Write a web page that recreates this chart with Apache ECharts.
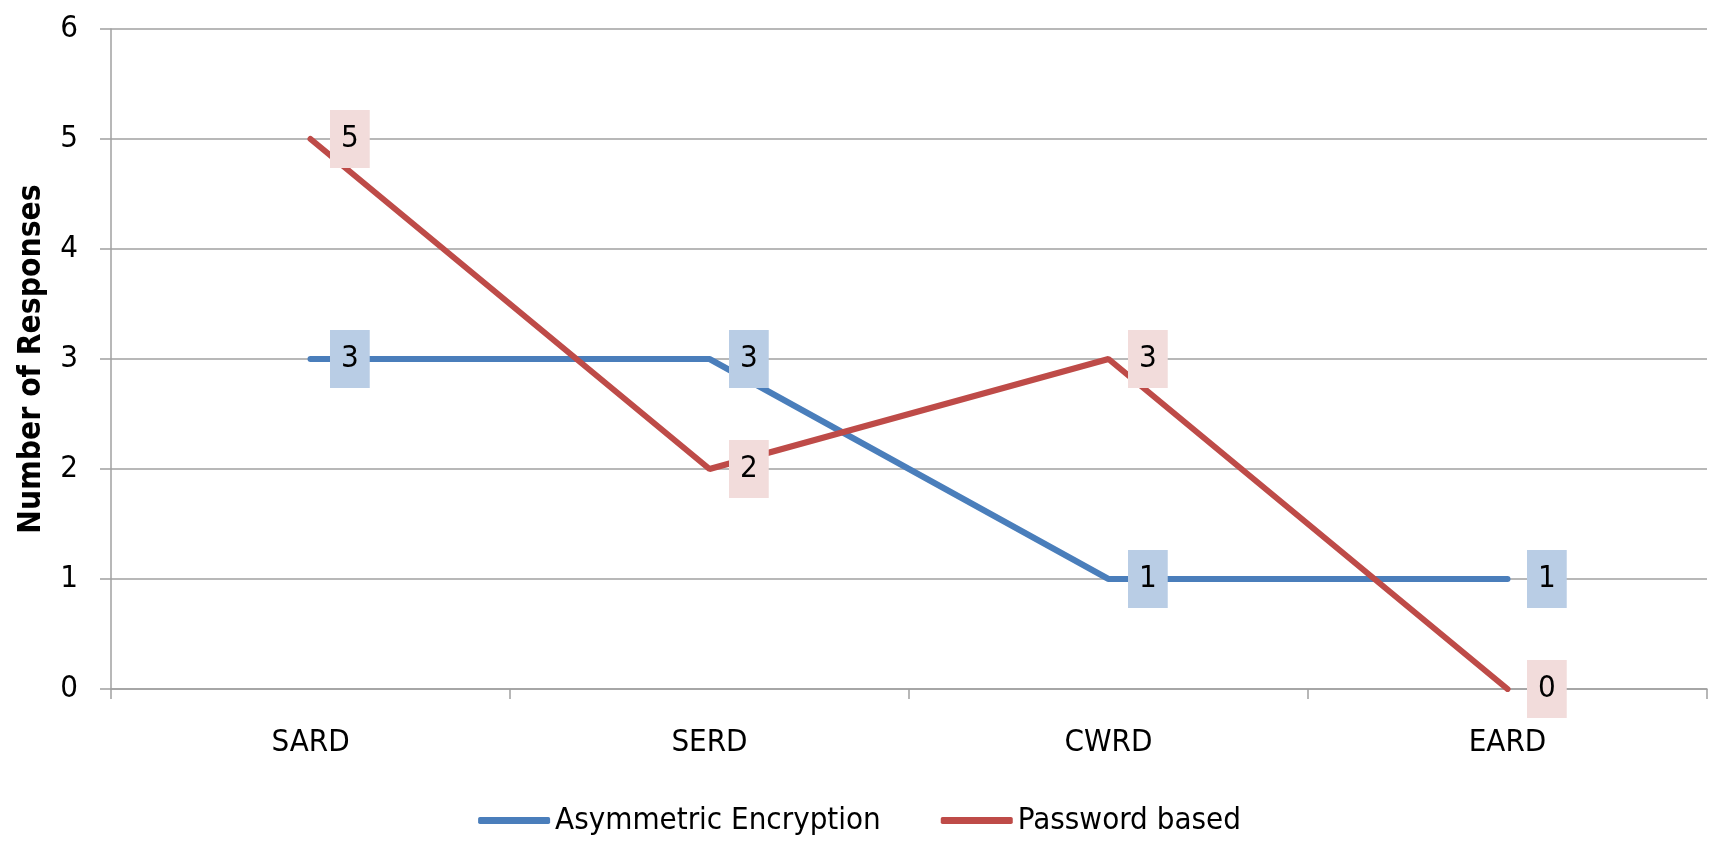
<!DOCTYPE html>
<html><head><meta charset="utf-8">
<script src="https://cdn.jsdelivr.net/npm/echarts@6/dist/echarts.min.js"></script>
<style>html,body{margin:0;padding:0;background:#fff}#c{width:1719px;height:850px}</style>
</head><body><div id="c"></div>
<script>
var categories = ['SARD', 'SERD', 'CWRD', 'EARD'];
var asymmetric = [3, 3, 1, 1];
var password = [5, 2, 3, 0];
var yTicks = [0, 1, 2, 3, 4, 5, 6];
var seriesNames = ['Asymmetric Encryption', 'Password based'];

var FONT = '"Liberation Sans Narrow", "DejaVu Sans Condensed", sans-serif';
var chart = echarts.init(document.getElementById('c'));
function mkLabel(bg) {
  return {
    show: true, position: 'right', distance: 19,
    color: '#000', fontFamily: FONT, fontSize: 31, lineHeight: 32,
    backgroundColor: bg, padding: [13, 11]
  };
}
chart.setOption({
  animation: false,
  textStyle: { fontFamily: FONT },
  grid: { left: 111, right: 12, top: 29, bottom: 161 },
  legend: {
    data: seriesNames, bottom: 9, left: 'center',
    itemWidth: 72, itemHeight: 7, itemGap: 60,
    icon: 'roundRect',
    textStyle: { fontFamily: FONT, fontSize: 31, color: '#000' }
  },
  xAxis: {
    type: 'category', data: categories,
    axisLine: { lineStyle: { color: '#a0a0a0', width: 1.5 } },
    axisTick: { show: true, length: 10, lineStyle: { color: '#a0a0a0', width: 1.5 } },
    axisLabel: { color: '#000', fontFamily: FONT, fontSize: 31, margin: 38 }
  },
  yAxis: {
    type: 'value', min: yTicks[0], max: yTicks[yTicks.length - 1], interval: 1,
    name: 'Number of Responses', nameLocation: 'middle', nameGap: 63,
    nameTextStyle: { fontFamily: FONT, fontWeight: 'bold', fontSize: 31.5, color: '#000' },
    axisLine: { show: true, lineStyle: { color: '#a0a0a0', width: 1.5 } },
    axisTick: { show: true, length: 11, lineStyle: { color: '#a0a0a0', width: 1.5 } },
    axisLabel: { color: '#000', fontFamily: FONT, fontSize: 31, margin: 33 },
    splitLine: { lineStyle: { color: '#a0a0a0', width: 1.5 } }
  },
  series: [
    { name: seriesNames[0], type: 'line', data: asymmetric,
      symbol: 'circle', symbolSize: 1, color: '#4a7ebb',
      lineStyle: { width: 6, color: '#4a7ebb', cap: 'round' },
      label: mkLabel('#b9cde5') },
    { name: seriesNames[1], type: 'line', data: password,
      symbol: 'circle', symbolSize: 1, color: '#be4b48',
      lineStyle: { width: 6, color: '#be4b48', cap: 'round' },
      label: mkLabel('#f2dcdb') }
  ]
});
</script></body></html>
